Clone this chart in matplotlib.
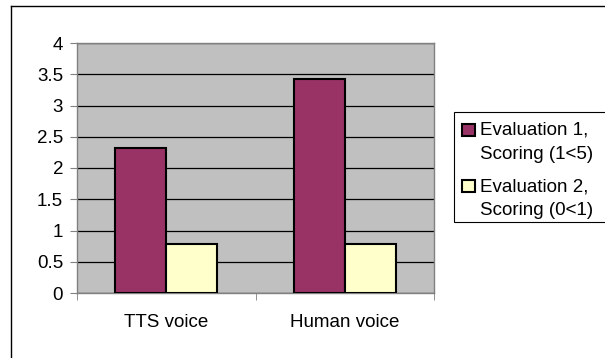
import numpy as np
import matplotlib
matplotlib.use("Agg")
import matplotlib.pyplot as plt
from matplotlib.lines import Line2D
from matplotlib.patches import Rectangle

plt.rcParams['font.family'] = ['Liberation Sans', 'DejaVu Sans']

categories = ['TTS voice', 'Human voice']
eval1 = [2.32, 3.42]
eval2 = [0.78, 0.78]
series_names = ['Evaluation 1,\nScoring (1<5)', 'Evaluation 2,\nScoring (0<1)']
series_colors = ['#993366', '#ffffcc']
yticks = [0, 0.5, 1, 1.5, 2, 2.5, 3, 3.5, 4]
ytick_labels = ['0', '0.5', '1', '1.5', '2', '2.5', '3', '3.5', '4']

W, H = 605, 358
fs = 13.5
fig = plt.figure(figsize=(W / 100, H / 100), dpi=100)
fig.patch.set_facecolor('white')

def px(x, y):
    # pixel position (from top-left) -> figure fraction
    return x / W, 1 - y / H

# plot area in pixels: left 77, right 434, top 43, bottom 293
ax = fig.add_axes([77 / W, 1 - 293 / H, (434 - 77) / W, (293 - 43) / H])
ax.set_facecolor('#c0c0c0')

x = np.arange(len(categories))
w = 0.286
for i, vals in enumerate([eval1, eval2]):
    ax.bar(x + (i - 0.5) * w, vals, w, color=series_colors[i], edgecolor='black',
           linewidth=1.5, zorder=3)

ax.set_xlim(-0.5, len(categories) - 0.5)
ax.set_ylim(0, 4)
ax.set_yticks(yticks)
ax.set_yticklabels(ytick_labels, fontsize=fs)
ax.yaxis.grid(True, color='black', linewidth=0.9, zorder=1)
ax.set_axisbelow(True)

# category labels at centres, tick marks at boundaries
ax.set_xticks(x)
ax.set_xticklabels(categories, fontsize=fs)
ax.tick_params(axis='x', length=0, pad=15)
ax.set_xticks(np.arange(-0.5, len(categories)), minor=True)
ax.tick_params(axis='x', which='minor', length=5, color='#808080')
ax.tick_params(axis='y', length=5, color='#808080', pad=5)

for s in ax.spines.values():
    s.set_color('#808080')
    s.set_linewidth(1)

# legend box (runs off the right edge like the original)
x0, y0 = px(454, 222)
x1, y1 = px(640, 112)
fig.add_artist(Rectangle((x0, y0), x1 - x0, y1 - y0, transform=fig.transFigure,
                         facecolor='white', edgecolor='black', linewidth=0.8))
for i, name in enumerate(series_names):
    top = 123 + i * 56
    hx, hy = px(462, top + 13)
    fig.add_artist(Rectangle((hx, hy), 13 / W, 12 / H, transform=fig.transFigure,
                             facecolor=series_colors[i], edgecolor='black', linewidth=1.5))
    tx, ty = px(480, top - 1)
    fig.text(tx, ty, name, fontsize=fs, va='top', ha='left', linespacing=1.55)

# outer chart border (only left and top visible)
fig.add_artist(Line2D([11 / W, 11 / W], [0, 1 - 6 / H], color='black', linewidth=1,
                      transform=fig.transFigure))
fig.add_artist(Line2D([11 / W, 1], [1 - 6 / H, 1 - 6 / H], color='black', linewidth=1,
                      transform=fig.transFigure))

fig.savefig('out.png', dpi=100)
